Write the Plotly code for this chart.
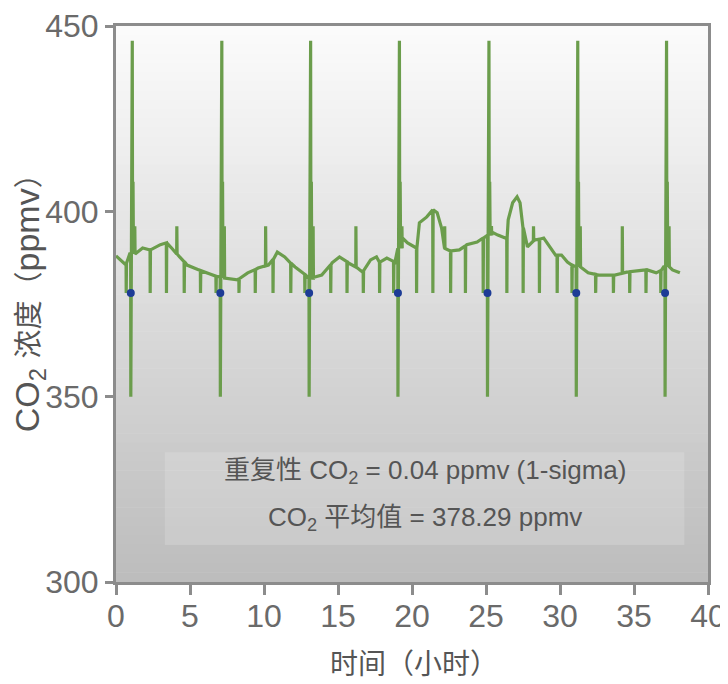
import plotly.graph_objects as go

# ---- data ----
base_t = [0.0, 0.6, 0.95, 1.8, 2.3, 3.0, 3.4, 3.8, 4.3, 4.8, 5.5, 6.35, 7.0, 8.2, 8.9, 9.6,
          10.3, 10.9, 11.4, 12.1, 12.8, 13.2, 13.9, 14.6, 15.1, 15.7, 16.6, 17.2, 17.6, 17.8,
          18.3, 18.85, 19.3, 19.7, 20.3, 20.5, 21.0, 21.4, 21.7, 22.0, 22.2, 22.6, 23.2, 23.7,
          24.4, 24.8, 25.4, 25.8, 26.3, 26.5, 26.8, 27.1, 27.3, 27.5, 27.8, 28.3, 28.9, 29.2,
          29.7, 30.1, 30.5, 30.8, 31.5, 31.9, 32.6, 33.7, 34.5, 35.9, 36.5, 37.0, 37.6, 38.1]
base_v = [388.0, 385.8, 388.8, 390.1, 389.6, 391.0, 391.5, 389.9, 387.7, 385.5, 384.2, 383.1,
          382.3, 381.5, 383.4, 384.7, 385.5, 389.0, 387.7, 385.0, 382.8, 382.0, 382.8, 386.1,
          387.7, 386.1, 383.8, 386.9, 387.7, 386.3, 387.4, 386.3, 393.0, 391.5, 390.1, 396.9,
          398.5, 400.4, 399.6, 395.5, 390.0, 389.3, 389.6, 391.0, 391.7, 392.8, 394.4, 393.6,
          392.8, 397.7, 402.3, 403.9, 402.3, 395.5, 390.4, 392.3, 392.8, 391.0, 388.2, 388.2,
          386.3, 385.5, 384.7, 383.4, 382.8, 382.8, 383.6, 384.2, 383.4, 385.0, 384.2, 383.4]

tooth_t = [0.68, 2.3, 3.4, 4.6, 5.7, 6.75, 8.3, 9.4, 10.6, 11.8, 12.75, 14.5, 15.6, 16.7,
           17.8, 18.75, 20.3, 21.4, 22.6, 23.6, 24.8, 26.4, 27.5, 28.6, 29.8, 30.8, 32.4,
           33.6, 34.7, 35.8, 36.8]
tooth_top = [386.0, 389.6, 391.5, 386.4, 384.0, 382.5, 381.8, 384.3, 387.0, 386.0, 383.0,
             385.6, 386.4, 384.0, 386.3, 386.5, 390.1, 400.4, 389.3, 390.7, 392.8, 393.0,
             395.5, 392.5, 388.2, 385.5, 383.0, 382.8, 383.7, 384.2, 384.0]
tooth_low = 378.0

spike_t = [4.1, 10.1, 16.2, 22.2, 28.2, 34.2]
spike_base = [388.5, 385.3, 385.0, 390.0, 392.0, 383.3]
spike_top = 396.0

cal_t = [1.0, 7.05, 13.05, 19.05, 25.1, 31.1, 37.1]
cal_base = [388.5, 382.0, 382.0, 390.0, 393.5, 385.0, 385.0]
cal_low = 350.0
cal_high = 446.0
cal_mid = 408.0
cal_after = 396.0
cal_dot = [378.0, 378.0, 378.0, 378.0, 378.0, 378.0, 378.0]

x_ticks = [0, 5, 10, 15, 20, 25, 30, 35, 40]
y_ticks = [300, 350, 400, 450]

# ---- build the trace path from the lists ----
blocks = []
for t, v in zip(base_t, base_v):
    blocks.append((t, 0, [(t, v)]))
for t, v in zip(tooth_t, tooth_top):
    blocks.append((t, 1, [(t, v), (t + 0.01, tooth_low), (t + 0.03, v)]))
for t, v in zip(spike_t, spike_base):
    blocks.append((t, 1, [(t, v), (t + 0.01, spike_top), (t + 0.03, v)]))
for t, v in zip(cal_t, cal_base):
    blocks.append((t, 1, [(t - 0.01, v), (t, cal_low), (t + 0.1, cal_high), (t + 0.12, v),
                          (t + 0.15, cal_mid), (t + 0.18, v), (t + 0.27, cal_after),
                          (t + 0.29, v)]))
blocks.sort(key=lambda b: (b[0], b[1]))
xs, ys = [], []
for _, _, pts in blocks:
    for px, py in pts:
        xs.append(px)
        ys.append(py)

GREEN = "#6b9d4c"
fig = go.Figure()
fig.add_trace(go.Scatter(x=xs, y=ys, mode="lines",
                         line=dict(color=GREEN, width=3.2), hoverinfo="skip"))
fig.add_trace(go.Scatter(x=cal_t, y=cal_dot, mode="markers",
                         marker=dict(color="#1d3c96", size=8), hoverinfo="skip"))

# gradient background of the plot area
shapes = []
n = 60
top_c = (252, 252, 252)
bot_c = (188, 188, 188)
for i in range(n):
    f = (i + 0.5) / n
    c = tuple(int(round(top_c[k] + (bot_c[k] - top_c[k]) * f)) for k in range(3))
    shapes.append(dict(type="rect", xref="paper", yref="paper", x0=0, x1=1,
                       y0=1 - (i + 1) / n, y1=1 - i / n + 0.001,
                       fillcolor="rgb(%d,%d,%d)" % c, line=dict(width=0), layer="below"))
shapes.append(dict(type="rect", xref="x", yref="y", x0=3.3, x1=38.4, y0=310, y1=335,
                   fillcolor="rgba(255,255,255,0.16)", line=dict(width=0), layer="below"))

FONT = "Liberation Sans, Arial, Noto Sans CJK SC, sans-serif"
fig.update_layout(
    width=720, height=676,
    margin=dict(l=108, r=20, t=18, b=102),
    paper_bgcolor="white", plot_bgcolor="rgba(0,0,0,0)",
    showlegend=False, shapes=shapes,
    font=dict(family=FONT, color="#666666"),
    annotations=[
        dict(x=20.9, y=329.7, xref="x", yref="y",
             text="重复性 CO<sub>2</sub> = 0.04 ppmv (1-sigma)", showarrow=False,
             font=dict(size=26, color="#555555", family=FONT)),
        dict(x=20.9, y=317, xref="x", yref="y",
             text="CO<sub>2</sub> 平均值 = 378.29 ppmv", showarrow=False,
             font=dict(size=26, color="#555555", family=FONT)),
        dict(x=0.503, y=-0.143, xref="paper", yref="paper", text="时间（小时）",
             showarrow=False, xanchor="center", yanchor="middle",
             font=dict(size=28, color="#555555", family="Noto Sans CJK SC")),
        dict(x=-0.146, y=0.515, xref="paper", yref="paper",
             text="CO<sub>2</sub> <span style='font-size:29px'>浓度（</span>ppmv<span style='font-size:29px'>）</span>",
             showarrow=False, xanchor="center", yanchor="middle", textangle=-90,
             font=dict(size=34, color="#555555", family=FONT)),
    ],
)
fig.update_xaxes(range=[0, 40], tickvals=x_ticks, ticktext=[str(v) for v in x_ticks],
                 showgrid=False, zeroline=False, showline=True, mirror=True, automargin=False,
                 linecolor="#8c8c8c", linewidth=3, ticks="outside", ticklen=10,
                 tickwidth=3, tickcolor="#8c8c8c", tickfont=dict(size=32, color="#6a6a6a"),
                 ticklabelstandoff=-6)
fig.update_yaxes(range=[300, 450], tickvals=y_ticks, ticktext=[str(v) for v in y_ticks],
                 showgrid=False, zeroline=False, showline=True, mirror=True, automargin=False,
                 linecolor="#8c8c8c", linewidth=3, ticks="outside", ticklen=8,
                 tickwidth=3, tickcolor="#8c8c8c", tickfont=dict(size=32, color="#6a6a6a"))

fig.write_html("out.html")
